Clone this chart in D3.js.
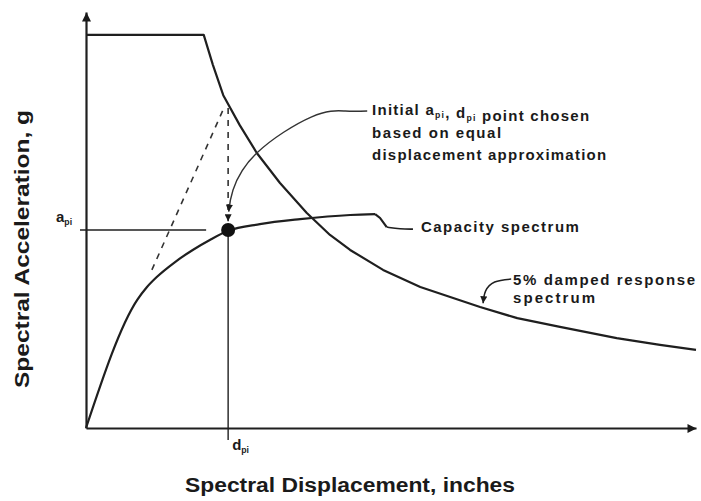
<!DOCTYPE html>
<html>
<head>
<meta charset="utf-8">
<script src="https://cdn.jsdelivr.net/npm/d3@7"></script>
<style>
  body { margin: 0; background: #fff; }
  text { font-family: "Liberation Sans", Arial, sans-serif; fill: #1a1a1a; }
</style>
</head>
<body>
<div id="app"></div>
<script>
// spectral displacement (x) / spectral acceleration (y), schematic units
const demandD = [0, 1.93, 2.08, 2.25, 2.52, 2.80, 3.18, 3.62, 4.00, 4.33, 4.87, 5.48, 6.46, 7.07, 7.77, 8.70, 9.41, 10.0]
const demandA = [0.945, 0.945, 0.873, 0.800, 0.728, 0.661, 0.589, 0.517, 0.464, 0.428, 0.380, 0.339, 0.291, 0.264, 0.243, 0.216, 0.200, 0.188]

const capD = [0, 0.84, 1.0, 1.16, 1.46, 1.75, 2.03, 2.33, 2.85, 3.51, 4.33, 4.74, 4.82, 4.93]
const capA = [0, 0.308, 0.339, 0.363, 0.399, 0.428, 0.452, 0.474, 0.490, 0.502, 0.512, 0.514, 0.505, 0.483]

const dpi = 2.33
const api = 0.476

// initial stiffness (dashed) and equal-displacement drop
const stiffD = [1.08, 2.26]
const stiffA = [0.380, 0.769]
const dropA = [0.769, 0.497]

const xTitle = "Spectral Displacement, inches"
const yTitle = "Spectral Acceleration, g"
const noteLines = ["based on equal", "displacement approximation"]
const noteWidths = [129, 234]

const W = 701, H = 501
const x = d3.scaleLinear().domain([0, 10]).range([86, 696])
const y = d3.scaleLinear().domain([0, 1]).range([428, 12])

const svg = d3.select("#app").append("svg").attr("width", W).attr("height", H)
const defs = svg.append("defs")
const mk = (id, w, h) => {
  defs.append("marker").attr("id", id).attr("viewBox", "0 0 10 10")
    .attr("refX", 10).attr("refY", 5).attr("markerWidth", w).attr("markerHeight", h)
    .attr("markerUnits", "userSpaceOnUse").attr("orient", "auto")
    .append("path").attr("d", "M0,0 L10,5 L0,10 Z").attr("fill", "#1a1a1a")
}
mk("axArrow", 12, 9)
mk("smArrow", 9, 7)

const ink = "#1f1f1f"

// axes
svg.append("g").attr("transform", `translate(0,${y(0)})`)
  .call(d3.axisBottom(x).tickValues([]).tickSizeOuter(0))
  .call(g => g.select(".domain").attr("stroke", ink).attr("stroke-width", 2.2).attr("marker-end", "url(#axArrow)"))
svg.append("g").attr("transform", `translate(${x(0)},0)`)
  .call(d3.axisLeft(y).tickValues([]).tickSizeOuter(0))
  .call(g => g.select(".domain").attr("stroke", ink).attr("stroke-width", 2.2).attr("marker-end", "url(#axArrow)"))

// guide lines for the performance point
svg.append("line").attr("x1", x(0) - 6).attr("x2", x(dpi) - 22)
  .attr("y1", y(api)).attr("y2", y(api)).attr("stroke", ink).attr("stroke-width", 1.6)
svg.append("line").attr("x1", x(dpi)).attr("x2", x(dpi))
  .attr("y1", y(api)).attr("y2", y(0) + 12).attr("stroke", ink).attr("stroke-width", 1.4)

const line = d3.line().x(d => x(d[0])).y(d => y(d[1]))

// dashed construction lines
svg.append("path").attr("d", line(d3.zip(stiffD, stiffA)))
  .attr("fill", "none").attr("stroke", "#333").attr("stroke-width", 1.6).attr("stroke-dasharray", "6,6")
svg.append("path").attr("d", line([[dpi, dropA[0]], [dpi, dropA[1]]]))
  .attr("fill", "none").attr("stroke", "#333").attr("stroke-width", 1.6).attr("stroke-dasharray", "6,6")
  .attr("marker-end", "url(#smArrow)")

// demand spectrum
svg.append("path").attr("d", line(d3.zip(demandD, demandA)))
  .attr("fill", "none").attr("stroke", ink).attr("stroke-width", 2.2).attr("stroke-linejoin", "round")

// capacity spectrum
const capLine = d3.line().x(d => x(d[0])).y(d => y(d[1])).curve(d3.curveMonotoneX)
svg.append("path").attr("d", capLine(d3.zip(capD, capA).slice(0, 12)))
  .attr("fill", "none").attr("stroke", ink).attr("stroke-width", 2.2)
svg.append("path").attr("d", line(d3.zip(capD, capA).slice(11)))
  .attr("fill", "none").attr("stroke", ink).attr("stroke-width", 2.2)

// performance point
svg.append("circle").attr("cx", x(dpi)).attr("cy", y(api)).attr("r", 7).attr("fill", "#111")

// leaders
const curvy = d3.line().x(d => x(d[0])).y(d => y(d[1])).curve(d3.curveNatural)
const noteLeader = [[4.61, 0.762], [4.25, 0.762], [3.70, 0.748], [2.80, 0.661], [2.41, 0.572], [2.34, 0.520]]
svg.append("path").attr("d", curvy(noteLeader))
  .attr("fill", "none").attr("stroke", "#333").attr("stroke-width", 1.4).attr("marker-end", "url(#smArrow)")

const capLeader = [[4.93, 0.483], [5.15, 0.478], [5.36, 0.478]]
svg.append("path").attr("d", d3.line().x(d => x(d[0])).y(d => y(d[1])).curve(d3.curveBasis)(capLeader))
  .attr("fill", "none").attr("stroke", ink).attr("stroke-width", 1.6)

const dampLeader = [[6.97, 0.358], [6.70, 0.351], [6.55, 0.329], [6.51, 0.300]]
svg.append("path").attr("d", curvy(dampLeader))
  .attr("fill", "none").attr("stroke", ink).attr("stroke-width", 1.5).attr("marker-end", "url(#smArrow)")

// labels
const lab = (px, py, size) => svg.append("text").attr("x", px).attr("y", py)
  .attr("font-size", size).attr("font-weight", "bold")

const sub = (t, base, s) => {
  t.append("tspan").text(base)
  t.append("tspan").text(s).attr("font-size", "0.58em").attr("dy", 3)
  t.append("tspan").text("").attr("dy", -3)
}

const n1 = lab(x(4.69), y(0.762) + 4, 15).attr("textLength", 217).attr("lengthAdjust", "spacing")
n1.append("tspan").text("Initial ")
sub(n1, "a", "pi")
n1.append("tspan").text(", ")
sub(n1, "d", "pi")
n1.append("tspan").text(" point chosen")
noteLines.forEach((s, i) => {
  lab(x(4.69), y(0.762) + 27 + 22 * i, 15).text(s)
    .attr("textLength", noteWidths[i]).attr("lengthAdjust", "spacing")
})

lab(x(5.49), y(0.482) + 5, 15).text("Capacity spectrum").attr("textLength", 158).attr("lengthAdjust", "spacing")
lab(x(7.0), y(0.356) + 5, 15).text("5% damped response").attr("textLength", 182).attr("lengthAdjust", "spacing")
lab(x(7.0), y(0.356) + 23, 15).text("spectrum").attr("textLength", 82).attr("lengthAdjust", "spacing")

const aLab = lab(x(0) - 30, y(api) - 8, 15)
sub(aLab, "a", "pi")
const dLab = lab(x(dpi) + 4, y(0) + 22, 15)
sub(dLab, "d", "pi")

// axis titles
svg.append("text").attr("x", (x(0) + x(10)) / 2 - 41).attr("y", 492)
  .attr("text-anchor", "middle").attr("font-size", 20).attr("font-weight", "bold")
  .attr("textLength", 330).attr("lengthAdjust", "spacingAndGlyphs").text(xTitle)
svg.append("text").attr("transform", "translate(29,249) rotate(-90)")
  .attr("text-anchor", "middle").attr("font-size", 20).attr("font-weight", "bold")
  .attr("textLength", 278).attr("lengthAdjust", "spacingAndGlyphs").text(yTitle)
</script>
</body>
</html>
